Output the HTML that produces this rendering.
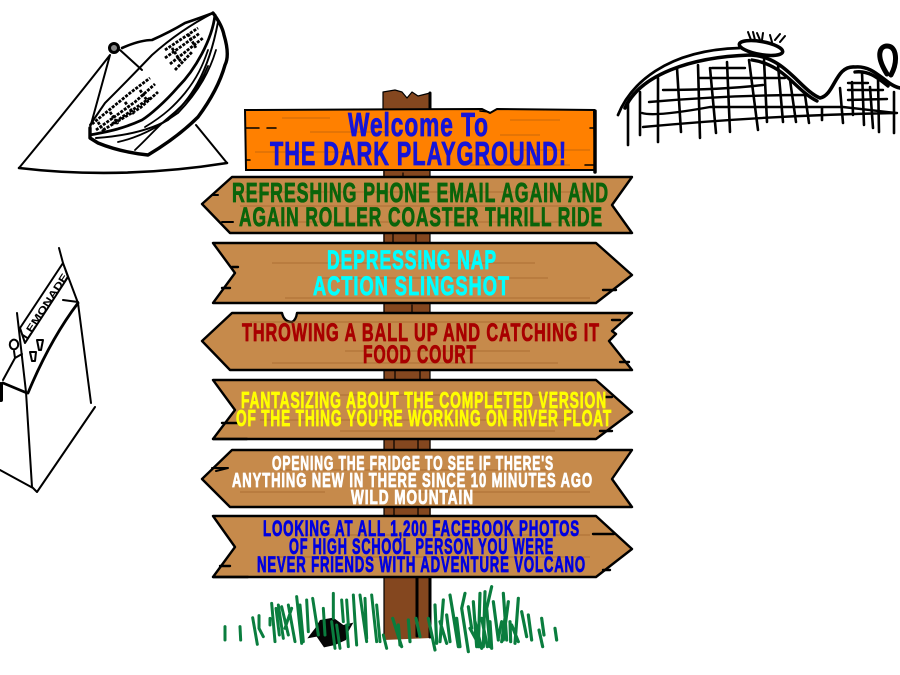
<!DOCTYPE html>
<html><head><meta charset="utf-8"><title>The Dark Playground</title>
<style>html,body{margin:0;padding:0;background:#fff}svg{display:block}
text{font-family:"Liberation Sans",sans-serif;font-weight:bold;stroke-width:.85;paint-order:stroke;stroke-linejoin:round;letter-spacing:1.4px}
.k{fill:none;stroke:#000;stroke-linecap:round;stroke-linejoin:round}
.g{fill:none;stroke:#a8692f;stroke-width:1.4;opacity:.55}
.b{fill:#c68a4b;stroke:#000;stroke-width:2.4;stroke-linejoin:round}
</style></head><body>
<svg width="900" height="675" viewBox="0 0 900 675" xmlns="http://www.w3.org/2000/svg">
<!-- post -->
<path d="M383 92 L395 90 L402 92 L407 98 L412 92 L418 96 L430 93 L431 638 L384 640 Z" fill="#84471f"/>
<path class="k" stroke-width="1.2" d="M383 92L395 90L402 92L407 98L412 92L418 96L430 93M383 92V110"/>
<path class="k" stroke-width="3" d="M430 93V110M430 578V637M417 578V636"/>
<path class="k" stroke-width="1.2" d="M384 170V640M403 173V177M393 234V243M416 234V243M412 305V313M420 370V380M395 370V380M394 440V450M418 440V450M394 507V516M418 507V516M430 170V576"/>
<!-- orange -->
<path d="M245 110 L482 109 L490 113 L497 109 L594 110 L595 170 L246 170 Z" fill="#ff8000" stroke="#000" stroke-width="2"/>
<path class="k" stroke-width="3.5" d="M595 111V172"/>
<path class="k" stroke-width="1.5" d="M246 128H259M267 128H276M246 160H250M590 128H595M585 165H595M480 111L489 112"/>
<path fill="none" stroke="#c8690a" stroke-width="1" d="M282 118H330M310 132H390M255 152H350M510 120H560M500 135H540M470 165H570M510 150H590"/>
<!-- signs -->
<path class="b" d="M202 204 L232 177 L632 177 L612 205 L632 233 L230 233 Z"/>
<path class="g" d="M245 192H590M240 206H600M260 222H590"/>
<path class="k" stroke-width="2" d="M212 195H218M222 222H233"/>
<path class="b" d="M213 243 L596 243 L632 275 L596 303 L213 303 L235 273 Z"/>
<path class="g" d="M272 263H535M320 278H548M285 298H590"/>
<path class="k" stroke-width="2.4" d="M232 267H238M222 288H230M603 290H616"/>
<path class="b" d="M202 341 L232 313 L282 313 Q284 322 292 322 Q296 320 297 313 L632 313 L612 331 L616 334 L609 341 L632 370 L230 370 Z"/>
<path class="g" d="M250 322H575M345 351H530M272 363H558"/>
<path class="k" stroke-width="2.4" d="M620 320H612M620 362H629"/>
<path class="b" d="M213 380 L596 380 L632 412 L596 439 L213 439 L235 410 Z"/>
<path class="g" d="M300 395H590M260 420H590M340 431H555"/>
<path class="k" stroke-width="2.4" d="M222 423H238M600 431H612M605 397H612M213 439H247"/>
<path class="b" d="M202 479 L232 450 L632 450 L612 479 L632 507 L230 507 Z"/>
<path class="g" d="M240 492H325M410 492H590M280 470H550"/>
<path class="k" stroke-width="2" d="M212 468H228L216 471"/>
<path class="b" d="M213 516 L596 516 L632 549 L596 577 L213 577 L235 547 Z"/>
<path class="g" d="M300 535H590M270 557H590"/>
<path class="k" stroke-width="2.4" d="M593 534H614M220 566H230M213 577H248M603 570H610"/>
<!-- text -->
<g>
<text x="348" y="136" font-size="33" fill="#1614d8" stroke="#1614d8" textLength="141" lengthAdjust="spacingAndGlyphs">Welcome To</text>
<text x="270" y="165" font-size="33" fill="#1614d8" stroke="#1614d8" textLength="297" lengthAdjust="spacingAndGlyphs">THE DARK PLAYGROUND!</text>
<text x="232" y="202" font-size="28" fill="#0a640a" stroke="#0a640a" textLength="377" lengthAdjust="spacingAndGlyphs">REFRESHING PHONE EMAIL AGAIN AND</text>
<text x="239" y="226" font-size="27" fill="#0a640a" stroke="#0a640a" textLength="364" lengthAdjust="spacingAndGlyphs">AGAIN ROLLER COASTER THRILL RIDE</text>
<text x="327" y="269" font-size="27" fill="#00ffff" stroke="#00ffff" textLength="170" lengthAdjust="spacingAndGlyphs">DEPRESSING NAP</text>
<text x="313" y="295" font-size="27" fill="#00ffff" stroke="#00ffff" textLength="197" lengthAdjust="spacingAndGlyphs">ACTION SLINGSHOT</text>
<text x="242" y="341" font-size="25" fill="#a80000" stroke="#a80000" textLength="358" lengthAdjust="spacingAndGlyphs">THROWING A BALL UP AND CATCHING IT</text>
<text x="363" y="363" font-size="25" fill="#a80000" stroke="#a80000" textLength="114" lengthAdjust="spacingAndGlyphs">FOOD COURT</text>
<text x="241" y="408" font-size="23" fill="#ffff00" stroke="#ffff00" textLength="366" lengthAdjust="spacingAndGlyphs">FANTASIZING ABOUT THE COMPLETED VERSION</text>
<text x="236" y="426" font-size="23" fill="#ffff00" stroke="#ffff00" textLength="376" lengthAdjust="spacingAndGlyphs">OF THE THING YOU'RE WORKING ON RIVER FLOAT</text>
<text x="272" y="470" font-size="20" fill="#fff" stroke="#fff" textLength="282" lengthAdjust="spacingAndGlyphs">OPENING THE FRIDGE TO SEE IF THERE'S</text>
<text x="232" y="487" font-size="20" fill="#fff" stroke="#fff" textLength="361" lengthAdjust="spacingAndGlyphs">ANYTHING NEW IN THERE SINCE 10 MINUTES AGO</text>
<text x="351" y="504" font-size="20" fill="#fff" stroke="#fff" textLength="123" lengthAdjust="spacingAndGlyphs">WILD MOUNTAIN</text>
<text x="263" y="536" font-size="22" fill="#0000e0" stroke="#0000e0" textLength="317" lengthAdjust="spacingAndGlyphs">LOOKING AT ALL 1,200 FACEBOOK PHOTOS</text>
<text x="289" y="554" font-size="22" fill="#0000e0" stroke="#0000e0" textLength="265" lengthAdjust="spacingAndGlyphs">OF HIGH SCHOOL PERSON YOU WERE</text>
<text x="257" y="572" font-size="22" fill="#0000e0" stroke="#0000e0" textLength="329" lengthAdjust="spacingAndGlyphs">NEVER FRIENDS WITH ADVENTURE VOLCANO</text>
</g>
<!-- turtle + left grass -->
<g transform="translate(220 585) scale(.33333)">
<path fill="#050505" d="M262 160L285 130L300 105L340 98L370 120L400 113L385 140L378 165L345 180L312 187L290 155Z"/>
<path fill="none" stroke="#0a7d3e" stroke-width="9" stroke-linecap="round" d="M15 125V165M60 125L62 165M98 98L112 178M117 92V130L130 155M150 100L150 120M155 55L165 170M175 60L190 160M168 70L178 150M185 65L205 150M205 60L225 170M215 70L195 130M230 35L245 175M240 60L250 170M260 45L265 140M278 40L295 150M310 70L315 150M340 25V100M335 110L345 190M365 45L370 110M350 120L360 190M380 45L385 120M400 30L405 110M420 30L440 170M435 40L440 160M455 30L470 170M470 60L480 170M490 150L500 190M380 120L385 185M405 110L410 180"/>
</g>
<!-- right grass -->
<g transform="translate(390 585) scale(.33333)">
<path fill="none" stroke="#0a7d3e" stroke-width="9.5" stroke-linecap="round" stroke-linejoin="round" d="M8 100L35 185M25 120L30 180M55 105L60 170M78 100L90 155M115 100L135 195M135 60L140 175M160 45L150 170M170 90L180 170M180 30L195 120M185 60L205 185M225 25L215 70L235 200M235 65L245 130M250 50L260 185M270 25L265 185M285 20L280 185M305 5L290 70L300 185M310 50L325 165M340 25L350 165M355 50L340 165M385 40L375 175M395 80L410 155M415 90L425 165M455 100L462 150M447 135L458 185M495 130L500 165M240 130L270 185M255 110L275 190M300 110L305 190M335 110L325 160M365 120L385 170M200 100L210 185M150 110L170 175M275 100L292 185M345 100L335 170M360 110L362 170"/>
</g>
<!-- bowl -->
<g class="k" fill="none">
<path stroke-width="2" d="M110 55Q75 100 19 168M110 55L90 128M120 50L142 70M196 125L227 163"/>
<path stroke-width="2.6" d="M19 168Q120 180 227 163"/>
<circle cx="114" cy="48" r="4.5" stroke-width="3" fill="#888"/>
<path stroke-width="2.6" d="M122 48Q140 40 152 40Q170 32 185 23Q200 18 213 13"/>
<path stroke-width="2" d="M213 13Q180 30 152 55Q130 78 105 103L90 125"/>
<path stroke-width="3.4" d="M213 13Q222 25 224 35Q230 55 225 65Q218 90 198 117Q178 137 148 155Q120 152 98 143L90 138L90 128"/>
<path stroke-width="2.8" d="M215 15C212 40 195 70 178 87C165 102 150 115 142 120C120 130 105 132 90 135"/>
<path stroke-width="2" d="M96 138C125 136 150 130 168 120C190 100 208 75 218 22"/>
<path stroke-width="1.8" d="M118 142C145 136 165 122 178 113C200 90 210 70 216 50M135 150C148 138 158 126 168 118C190 100 200 85 208 66M145 127C165 115 175 105 185 93C197 78 203 65 208 50"/>
</g>
<path fill="none" stroke="#000" stroke-width="2.8" stroke-dasharray="3 1.3" d="M92 124L130 93L150 78M96 130L135 102L155 84M103 130L140 108L158 92M112 124L150 98M98 122L104 132M110 112L118 124M125 102L134 114M140 90L148 102M165 50L198 28M165 58L200 33M170 64L203 38M175 70L192 52M172 48L181 62M188 34L196 48"/>
<!-- coaster -->
<g class="k" fill="none">
<path stroke-width="2.8" d="M618 115C630 85 665 50 740 48"/>
<path stroke-width="3.6" d="M625 108C640 75 690 57 750 55C785 56 800 90 820 98C835 95 835 65 855 67C875 65 885 85 900 88"/>
<path stroke-width="3.4" d="M752 60C785 65 795 90 817 101M855 72C870 70 880 80 888 86"/>
<path stroke-width="5" d="M887 74C875 55 880 46 887 46C897 46 898 62 891 75"/>
<ellipse cx="761" cy="48" rx="22" ry="6.5" transform="rotate(10 761 48)" stroke-width="3.5" fill="#fff"/>
<path stroke-width="2" d="M748 32l3 8M753 32l2 8M757 33l3 7M763 33l-1 7M770 35l2 7M775 40l5 -6M780 42l5 -6"/>
<path stroke-width="2.6" d="M628 103V145M640 92V135M658 78V142M677 68L681 132M698 65L700 138M710 68L716 133M727 62L730 132M749 60L758 130M764 60L767 122M778 65L783 122M790 80L796 122M805 95L809 123M822 108V120M840 88L843 123M852 82L853 115M862 72L864 125M870 87L873 128M878 78L879 132M894 92V133"/>
<path stroke-width="2.4" d="M643 127Q770 115 897 113M649 102Q730 95 807 95M663 90Q720 90 763 85M700 78H785M712 68H745M642 113Q655 117 710 107H843L896 113M848 83H868M848 90H883M848 100L887 99"/>
</g>
<!-- lemonade -->
<g class="k" fill="none">
<path stroke-width="2" d="M59 248L63 263L78 303L91 403M63 263L20 328L25 343L68 277L63 263M17 313L26 392L32 487L37 492L95 407M0 470L33 488M63 300L78 302"/>
<path stroke-width="2.8" d="M28 393Q50 340 78 303M3 383L27 393"/>
<path stroke-width="2" d="M10 343a3.5 4 0 1 0 8 3a3.5 4 0 1 0 -8 -3M14 351L15 358L3 380M15 358L22 354"/>
<path stroke-width="4" d="M1 384V400"/>
<path stroke-width="2" d="M37 340H43L41 350H39ZM30 352H36L35 361H32Z"/>
</g>
<text x="0" y="0" font-size="10" fill="#000" stroke="none" style="letter-spacing:0" transform="translate(27 340) rotate(-57)" textLength="76" lengthAdjust="spacingAndGlyphs">LEMONADE</text>
</svg>
</body></html>
